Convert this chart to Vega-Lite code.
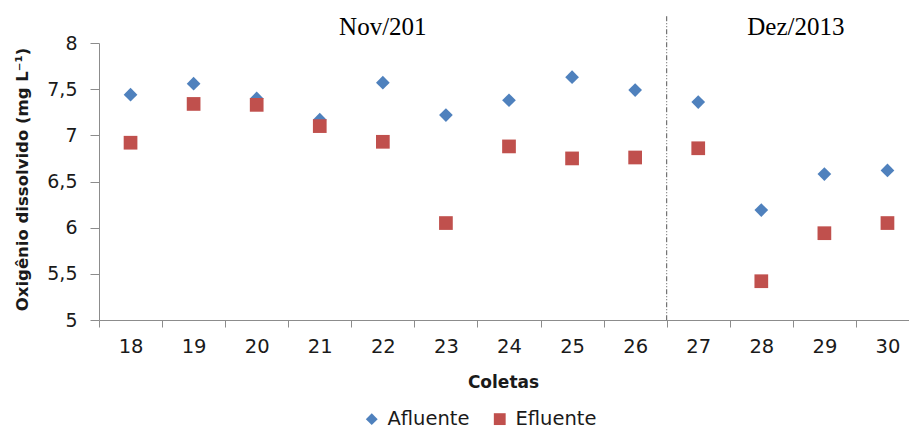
{
  "$schema": "https://vega.github.io/schema/vega-lite/v6.json",
  "autosize": {"type": "none"},
  "padding": {"left": 99, "top": 43, "right": 0, "bottom": 110},
  "width": 820,
  "height": 277,
  "background": "white",
  "config": {
    "view": {"stroke": null},
    "font": "DejaVu Sans",
    "legend": {
      "title": null,
      "orient": "none",
      "direction": "horizontal",
      "legendX": 263,
      "legendY": 366,
      "labelFontSize": 19.5,
      "labelColor": "#1a1a1a",
      "labelOffset": 6,
      "columnPadding": 20,
      "symbolSize": 140,
      "symbolStrokeWidth": 0
    }
  },
  "layer": [
    {
      "data": {
        "values": [
          {"coleta": "18", "serie": "Afluente", "od": 7.44},
          {"coleta": "19", "serie": "Afluente", "od": 7.56},
          {"coleta": "20", "serie": "Afluente", "od": 7.40},
          {"coleta": "21", "serie": "Afluente", "od": 7.17},
          {"coleta": "22", "serie": "Afluente", "od": 7.57},
          {"coleta": "23", "serie": "Afluente", "od": 7.22},
          {"coleta": "24", "serie": "Afluente", "od": 7.38},
          {"coleta": "25", "serie": "Afluente", "od": 7.63},
          {"coleta": "26", "serie": "Afluente", "od": 7.49},
          {"coleta": "27", "serie": "Afluente", "od": 7.36},
          {"coleta": "28", "serie": "Afluente", "od": 6.19},
          {"coleta": "29", "serie": "Afluente", "od": 6.58},
          {"coleta": "30", "serie": "Afluente", "od": 6.62},
          {"coleta": "18", "serie": "Efluente", "od": 6.92},
          {"coleta": "19", "serie": "Efluente", "od": 7.34},
          {"coleta": "20", "serie": "Efluente", "od": 7.33},
          {"coleta": "21", "serie": "Efluente", "od": 7.10},
          {"coleta": "22", "serie": "Efluente", "od": 6.93},
          {"coleta": "23", "serie": "Efluente", "od": 6.05},
          {"coleta": "24", "serie": "Efluente", "od": 6.88},
          {"coleta": "25", "serie": "Efluente", "od": 6.75},
          {"coleta": "26", "serie": "Efluente", "od": 6.76},
          {"coleta": "27", "serie": "Efluente", "od": 6.86},
          {"coleta": "28", "serie": "Efluente", "od": 5.42},
          {"coleta": "29", "serie": "Efluente", "od": 5.94},
          {"coleta": "30", "serie": "Efluente", "od": 6.05}
        ]
      },
      "mark": {"type": "point", "filled": true, "opacity": 1, "strokeWidth": 0, "size": 188},
      "encoding": {
        "x": {
          "field": "coleta",
          "type": "ordinal",
          "scale": {"paddingInner": 0, "paddingOuter": 0},
          "axis": {
            "labelAngle": 0,
            "title": "Coletas",
            "titleFont": "DejaVu Sans",
            "titleFontWeight": "bold",
            "titleFontSize": 17,
            "titleColor": "#1a1a1a",
            "titleX": 404,
            "titleY": 62,
            "titleBaseline": "middle",
            "titleAnchor": null,
            "domainColor": "#8c8c8c",
            "tickColor": "#8c8c8c",
            "tickSize": 7,
            "tickBand": "extent",
            "labelFontSize": 19.5,
            "labelColor": "#1a1a1a",
            "labelPadding": 10,
            "grid": false
          }
        },
        "y": {
          "field": "od",
          "type": "quantitative",
          "scale": {"domain": [5, 8], "nice": false, "zero": false},
          "axis": {
            "values": [5, 5.5, 6, 6.5, 7, 7.5, 8],
            "format": ".1~f",
            "formatType": "number",
            "labelExpr": "replace(datum.label, '.', ',')",
            "title": "Oxigênio dissolvido (mg L⁻¹)",
            "titleFontWeight": "bold",
            "titleFontSize": 16.5,
            "titleColor": "#1a1a1a",
            "titleAngle": -90,
            "titleX": -77,
            "titleY": 136,
            "titleAlign": "center",
            "titleBaseline": "middle",
            "titleAnchor": null,
            "domainColor": "#8c8c8c",
            "tickColor": "#8c8c8c",
            "tickSize": 9,
            "labelFontSize": 19,
            "labelColor": "#1a1a1a",
            "labelPadding": 13,
            "grid": false
          }
        },
        "shape": {
          "field": "serie",
          "type": "nominal",
          "scale": {"domain": ["Afluente", "Efluente"], "range": ["diamond", "square"]}
        },
        "color": {
          "field": "serie",
          "type": "nominal",
          "scale": {"domain": ["Afluente", "Efluente"], "range": ["#4f81bd", "#c0504d"]}
        }
      }
    },
    {
      "data": {"values": [{"coleta": "27", "topo": 8.29, "base": 5}]},
      "mark": {"type": "rule", "color": "#555555", "strokeWidth": 1, "strokeDash": [5, 2, 1, 2, 1, 2]},
      "encoding": {
        "x": {"field": "coleta", "type": "ordinal", "bandPosition": 0},
        "y": {"field": "topo", "type": "quantitative"},
        "y2": {"field": "base"}
      }
    },
    {
      "data": {"values": [{"coleta": "22", "nivel": 8.168, "periodo": "Nov/201"}]},
      "mark": {"type": "text", "font": "Liberation Serif", "fontSize": 25, "color": "#000000", "baseline": "middle", "align": "center"},
      "encoding": {
        "x": {"field": "coleta", "type": "ordinal", "bandPosition": 0.5},
        "y": {"field": "nivel", "type": "quantitative"},
        "text": {"field": "periodo"}
      }
    },
    {
      "data": {"values": [{"coleta": "29", "nivel": 8.168, "periodo": "Dez/2013"}]},
      "mark": {"type": "text", "font": "Liberation Serif", "fontSize": 25, "color": "#000000", "baseline": "middle", "align": "center", "dx": 3},
      "encoding": {
        "x": {"field": "coleta", "type": "ordinal", "bandPosition": 0},
        "y": {"field": "nivel", "type": "quantitative"},
        "text": {"field": "periodo"}
      }
    }
  ]
}
